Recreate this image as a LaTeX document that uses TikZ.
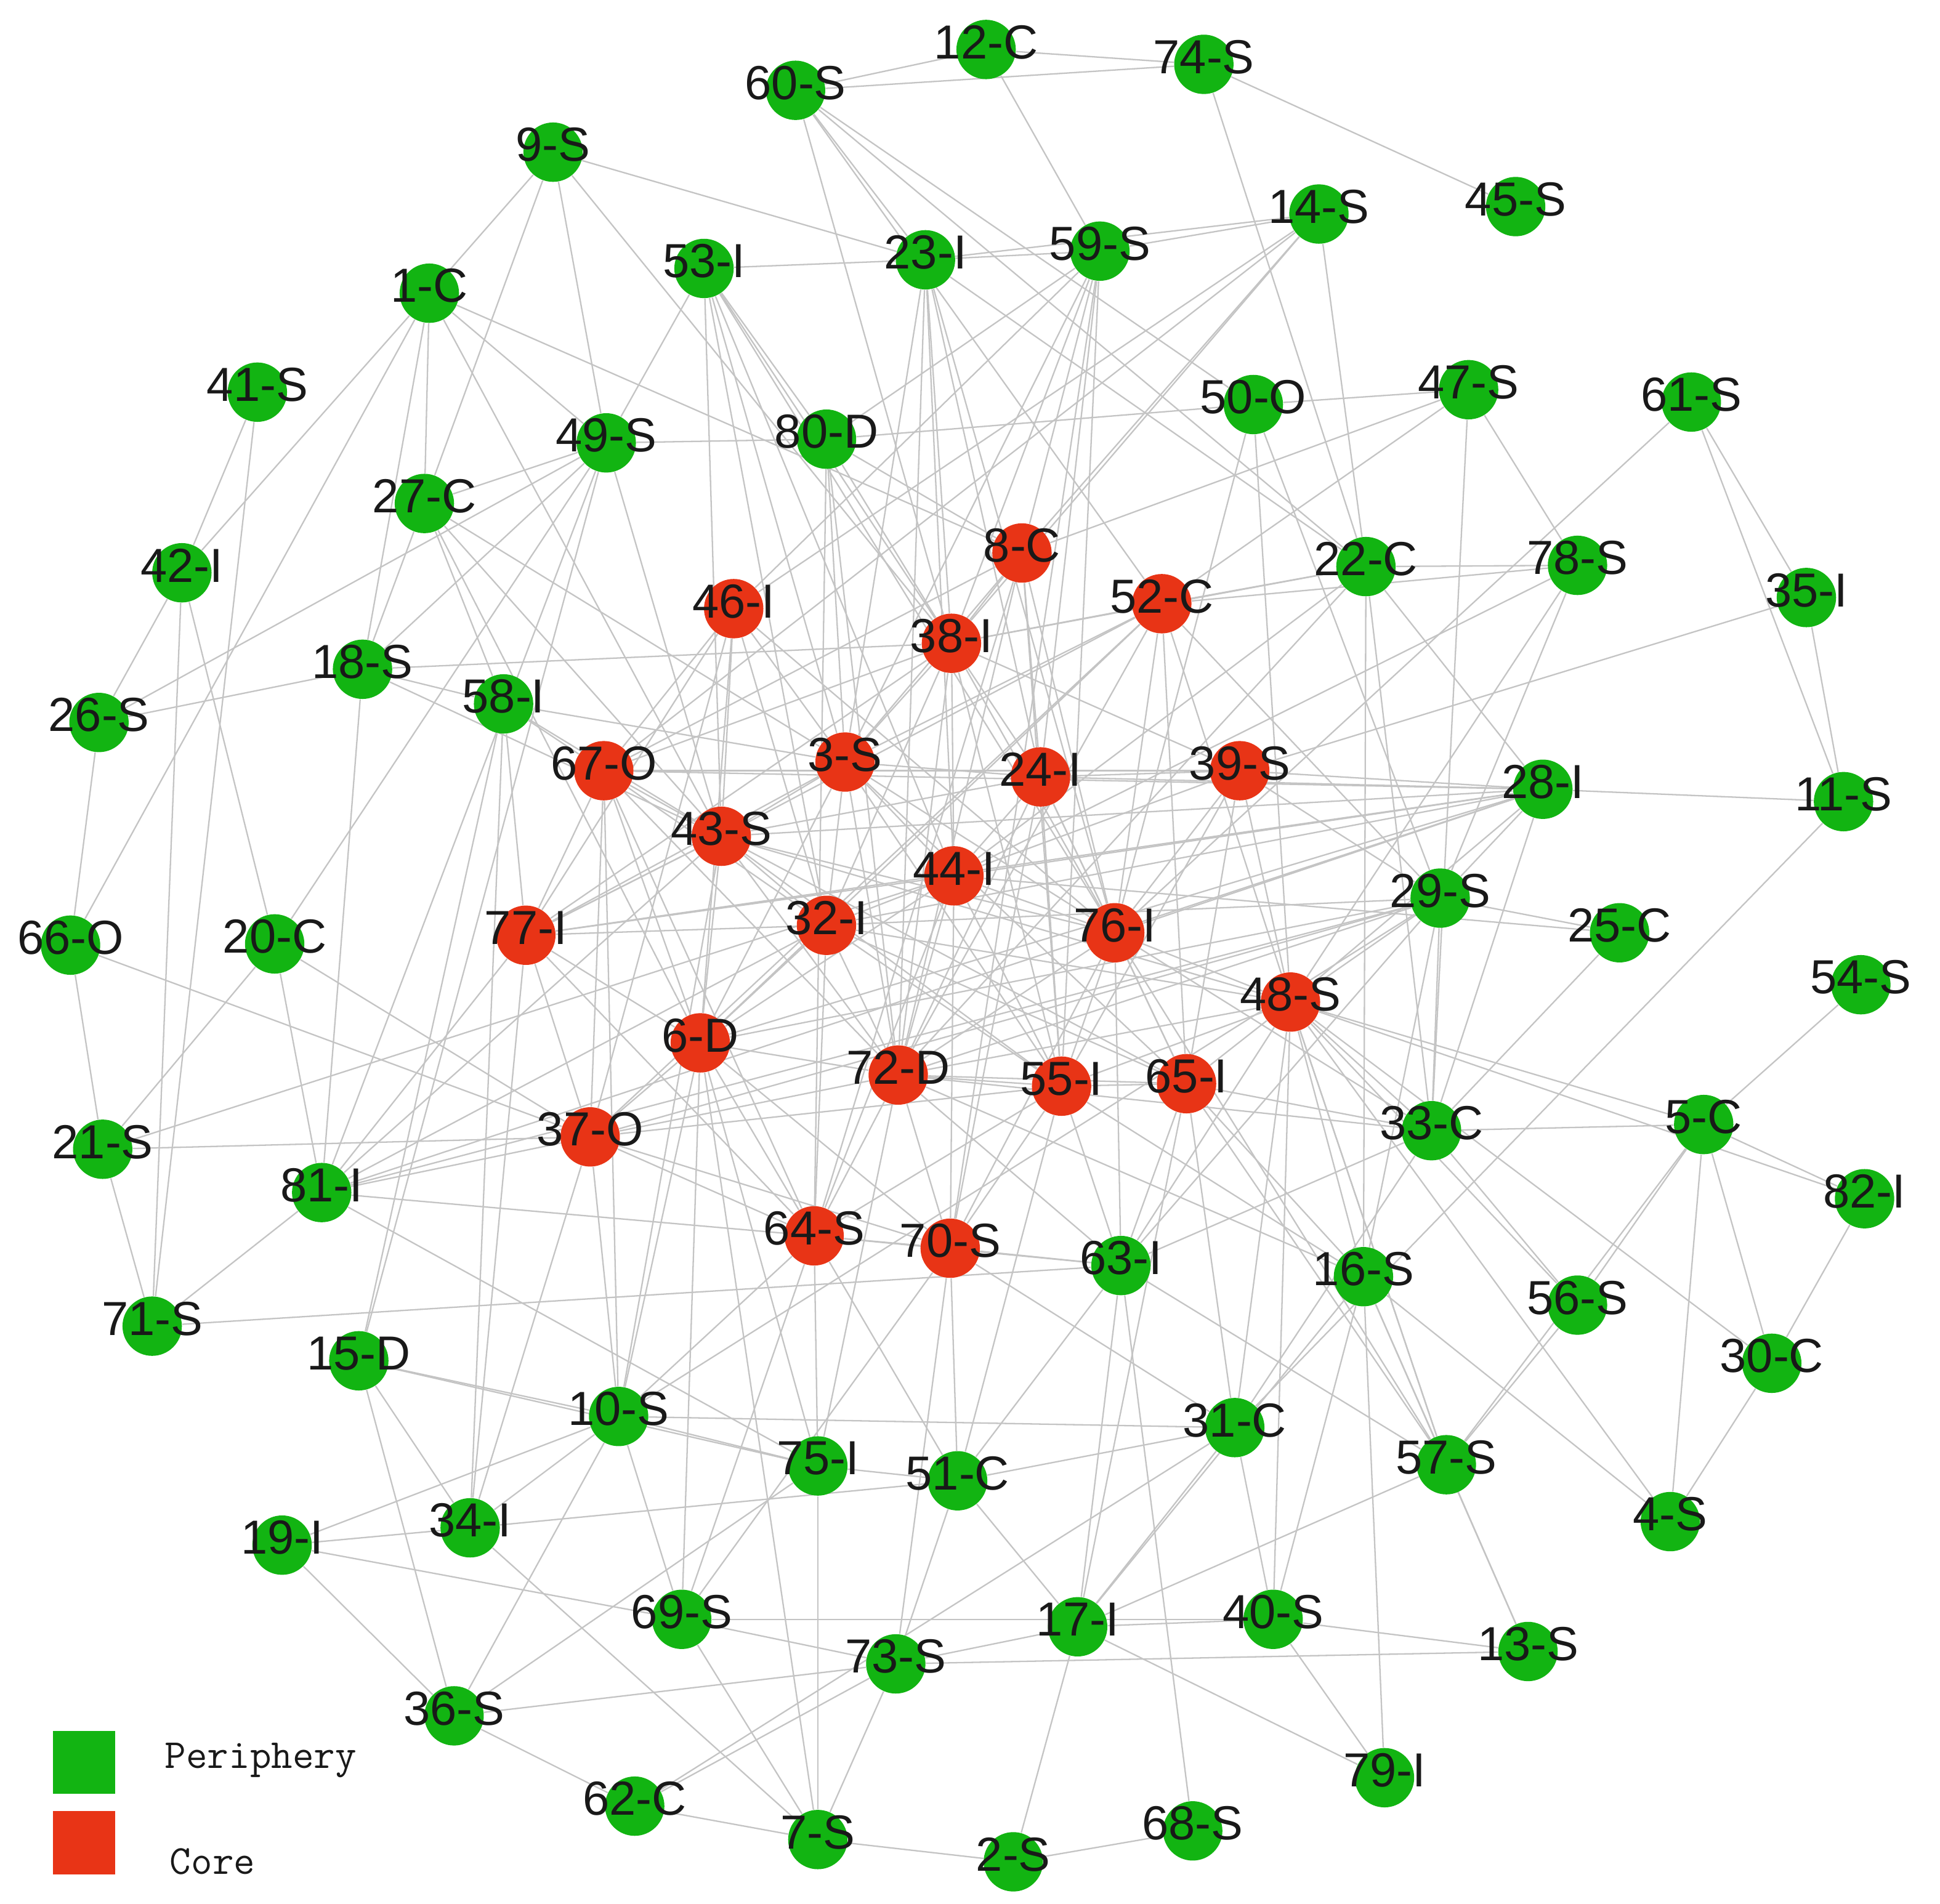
\documentclass[tikz,border=0pt]{standalone}
\usepackage{fontspec}
\newfontfamily\labfont{Liberation Sans}
\newfontfamily\legfont{Latin Modern Mono}
\pgfdeclarelayer{background}
\pgfsetlayers{background,main}
\definecolor{pgreen}{RGB}{18,180,18}
\definecolor{pred}{RGB}{232,52,22}
\definecolor{txt}{RGB}{25,25,25}
\tikzset{
  gnode/.style={circle, fill=pgreen, minimum size=0.96cm, inner sep=0pt},
  rnode/.style={circle, fill=pred, minimum size=0.96cm, inner sep=0pt},
  lab/.style={font=\labfont\fontsize{22}{26}\selectfont, text=txt, inner sep=0pt, yshift=0.12cm},
  edge/.style={draw=black!23, line width=0.65pt},
  legbox/.style={minimum width=1cm, minimum height=1.02cm, inner sep=0pt},
  legtext/.style={font=\legfont\fontsize{19}{22}\selectfont, text=txt, inner sep=0pt, anchor=west}
}
\newcommand\gnd[4]{\node[gnode] (n#1) at (#2,#3) {}; \node[lab] (t#1) at (n#1) {#4};}
\newcommand\rnd[4]{\node[rnode] (n#1) at (#2,#3) {}; \node[lab] (t#1) at (n#1) {#4};}
\begin{document}
\begin{tikzpicture}[x=0.02cm,y=-0.02cm]
\useasboundingbox (0,0) rectangle (1568,1539);
% periphery nodes
\gnd{1}{347}{237}{1-C}
\gnd{2}{819}{1505}{2-S}
\gnd{4}{1350}{1230}{4-S}
\gnd{5}{1377}{909}{5-C}
\gnd{7}{661}{1487}{7-S}
\gnd{9}{447}{123}{9-S}
\gnd{10}{500}{1145}{10-S}
\gnd{11}{1490}{648}{11-S}
\gnd{12}{797}{40}{12-C}
\gnd{13}{1235}{1335}{13-S}
\gnd{14}{1066}{173}{14-S}
\gnd{15}{290}{1100}{15-D}
\gnd{16}{1102}{1032}{16-S}
\gnd{17}{871}{1315}{17-I}
\gnd{18}{293}{541}{18-S}
\gnd{19}{228}{1249}{19-I}
\gnd{20}{222}{763}{20-C}
\gnd{21}{83}{929}{21-S}
\gnd{22}{1104}{458}{22-C}
\gnd{23}{748}{210}{23-I}
\gnd{25}{1309}{754}{25-C}
\gnd{26}{80}{584}{26-S}
\gnd{27}{343}{407}{27-C}
\gnd{28}{1247}{638}{28-I}
\gnd{29}{1164}{726}{29-S}
\gnd{30}{1432}{1102}{30-C}
\gnd{31}{998}{1154}{31-C}
\gnd{33}{1157}{914}{33-C}
\gnd{34}{380}{1235}{34-I}
\gnd{35}{1460}{483}{35-I}
\gnd{36}{367}{1387}{36-S}
\gnd{40}{1029}{1309}{40-S}
\gnd{41}{208}{317}{41-S}
\gnd{42}{147}{463}{42-I}
\gnd{45}{1225}{167}{45-S}
\gnd{47}{1187}{315}{47-S}
\gnd{49}{490}{358}{49-S}
\gnd{50}{1013}{327}{50-O}
\gnd{51}{774}{1197}{51-C}
\gnd{53}{569}{217}{53-I}
\gnd{54}{1504}{796}{54-S}
\gnd{56}{1275}{1055}{56-S}
\gnd{57}{1169}{1184}{57-S}
\gnd{58}{407}{569}{58-I}
\gnd{59}{889}{203}{59-S}
\gnd{60}{643}{73}{60-S}
\gnd{61}{1367}{325}{61-S}
\gnd{62}{513}{1460}{62-C}
\gnd{63}{906}{1023}{63-I}
\gnd{66}{57}{764}{66-O}
\gnd{68}{964}{1480}{68-S}
\gnd{69}{551}{1309}{69-S}
\gnd{71}{123}{1072}{71-S}
\gnd{73}{724}{1345}{73-S}
\gnd{74}{973}{52}{74-S}
\gnd{75}{661}{1185}{75-I}
\gnd{78}{1275}{457}{78-S}
\gnd{79}{1119}{1437}{79-I}
\gnd{80}{668}{355}{80-D}
\gnd{81}{260}{964}{81-I}
\gnd{82}{1507}{969}{82-I}
% core nodes
\rnd{3}{683}{616}{3-S}
\rnd{6}{566}{843}{6-D}
\rnd{8}{826}{447}{8-C}
\rnd{24}{841}{628}{24-I}
\rnd{32}{668}{748}{32-I}
\rnd{37}{477}{919}{37-O}
\rnd{38}{769}{520}{38-I}
\rnd{39}{1002}{623}{39-S}
\rnd{43}{583}{676}{43-S}
\rnd{44}{771}{708}{44-I}
\rnd{46}{593}{492}{46-I}
\rnd{48}{1043}{810}{48-S}
\rnd{52}{939}{488}{52-C}
\rnd{55}{858}{878}{55-I}
\rnd{64}{658}{999}{64-S}
\rnd{65}{959}{876}{65-I}
\rnd{67}{488}{623}{67-O}
\rnd{70}{768}{1009}{70-S}
\rnd{72}{726}{869}{72-D}
\rnd{76}{901}{754}{76-I}
\rnd{77}{425}{756}{77-I}
% legend
\node[legbox, fill=pgreen] (lg) at (68,1424.5) {};
\node[legbox, fill=pred] (lr) at (68,1489.5) {};
\node[legtext] (lgt) at (133,1423) {Periphery};
\node[legtext] (lrt) at (137,1505) {Core};
% edges
\begin{pgfonlayer}{background}
\foreach \a/\b in {60/12, 12/74, 60/74, 12/59, 74/45, 74/22, 59/14, 23/14, 53/23, 23/59, 60/23, 60/38, 60/52, 60/50, 60/22,
 9/1, 9/27, 9/49, 9/38, 9/23, 1/27, 1/42, 1/66, 1/8, 1/49, 1/43, 1/18, 41/42, 41/71, 42/26, 42/71, 42/20,
 49/80, 49/53, 49/27, 49/26, 49/18, 49/43, 49/81, 80/53, 80/50, 80/59, 80/8, 80/3, 80/72, 50/47, 50/48, 50/29,
 47/78, 47/33, 47/8, 22/78, 61/35, 61/11, 61/76, 35/11, 35/39, 11/28, 11/31, 28/29, 29/25, 44/25, 25/33,
 54/5, 5/57, 5/56, 5/82, 5/33, 5/48, 5/4, 5/30, 82/30, 30/4, 82/48, 30/48, 48/4, 16/4, 56/57, 56/48, 57/13,
 57/16, 57/48, 57/17, 16/13, 13/40, 13/73, 79/16, 79/40, 79/17, 16/17, 16/40, 31/51, 31/10, 31/17, 31/40,
 40/17, 40/69, 17/73, 17/2, 17/51, 17/63, 68/2, 68/63, 2/7, 7/62, 7/73, 7/69, 7/75, 7/34, 7/6, 62/36, 62/73,
 62/31, 73/69, 73/51, 73/36, 69/19, 69/10, 69/6, 36/19, 36/15, 36/10, 36/75, 19/34, 19/10, 34/10, 34/51,
 34/15, 34/58, 34/77, 34/37, 15/10, 15/75, 15/49, 15/58, 10/75, 10/6, 10/67, 75/81, 75/51, 51/64, 51/70,
 71/21, 71/81, 71/63, 21/66, 21/37, 21/20, 21/44, 66/26, 66/37, 26/18, 20/81, 20/37, 20/49, 18/58, 18/38,
 18/81, 18/27, 58/67, 58/77, 81/64, 81/28, 81/43, 81/29, 27/58, 27/43, 27/6,
 14/46, 14/8, 14/22, 14/38, 14/67, 59/24, 59/55, 59/3, 59/46, 59/8, 23/24, 23/44, 23/76, 23/3, 23/22,
 53/3, 53/43, 53/32, 53/38, 53/76, 22/38, 22/52, 22/33, 22/28, 22/72, 22/16, 78/52, 78/29, 78/48,
 8/38, 8/24, 8/3, 8/64, 8/55, 52/38, 52/76, 52/65, 52/43, 52/3, 52/72, 52/48, 38/3, 38/24, 38/44, 38/67,
 38/39, 38/32, 38/77, 38/55, 46/43, 46/67, 46/3, 46/32, 46/76, 46/6, 3/24, 3/43, 3/44, 3/72, 3/77, 3/76,
 3/65, 3/6, 24/39, 24/76, 24/55, 24/43, 24/65, 24/70, 39/28, 39/48, 39/67, 39/76, 39/44, 67/43, 67/77,
 67/37, 67/72, 67/28, 67/64, 43/32, 43/77, 43/76, 43/65, 43/48, 43/72, 44/32, 44/76, 44/77, 44/6, 44/55,
 44/64, 77/32, 77/37, 77/6, 77/28, 77/81, 32/72, 32/29, 32/6, 32/64, 32/48, 76/55, 76/65, 76/48, 76/72,
 76/70, 76/57, 48/65, 48/55, 48/33, 48/16, 48/72, 6/72, 6/37, 6/64, 6/75, 6/29, 6/28, 72/55, 72/64, 72/37,
 72/70, 72/65, 55/65, 55/70, 55/63, 55/64, 55/37, 65/63, 65/57, 65/16, 65/33, 37/64, 37/10, 37/81,
 64/70, 64/63, 64/69, 70/63, 70/31, 70/73, 63/51, 33/29, 33/28, 33/56, 33/63, 33/31, 29/16, 29/48,
 29/63, 29/10, 28/24, 28/32, 28/44, 28/48,
 59/70, 59/38, 23/72, 23/38, 53/44, 80/38, 80/64, 8/72, 8/67, 8/76, 52/37, 52/6, 52/29, 38/76, 38/72,
 46/37, 46/77, 3/32, 3/55, 24/44, 24/72, 39/29, 39/65, 39/55, 67/6, 67/32, 43/6, 43/55, 44/72, 44/70,
 77/43, 77/64, 32/65, 32/55, 76/63, 76/33, 48/63, 48/57, 6/70, 72/63, 72/33, 55/16, 65/31, 37/70,
 64/10, 70/69, 63/57, 28/76, 28/43, 29/72, 29/37, 22/44, 50/76, 47/52, 78/44, 81/32, 58/3, 58/43,
 27/3, 18/43, 10/43, 75/64, 75/72, 51/55, 31/48, 40/48, 17/65, 16/72}
 \draw[edge] (n\a) -- (n\b);
\end{pgfonlayer}
\end{tikzpicture}
\end{document}
